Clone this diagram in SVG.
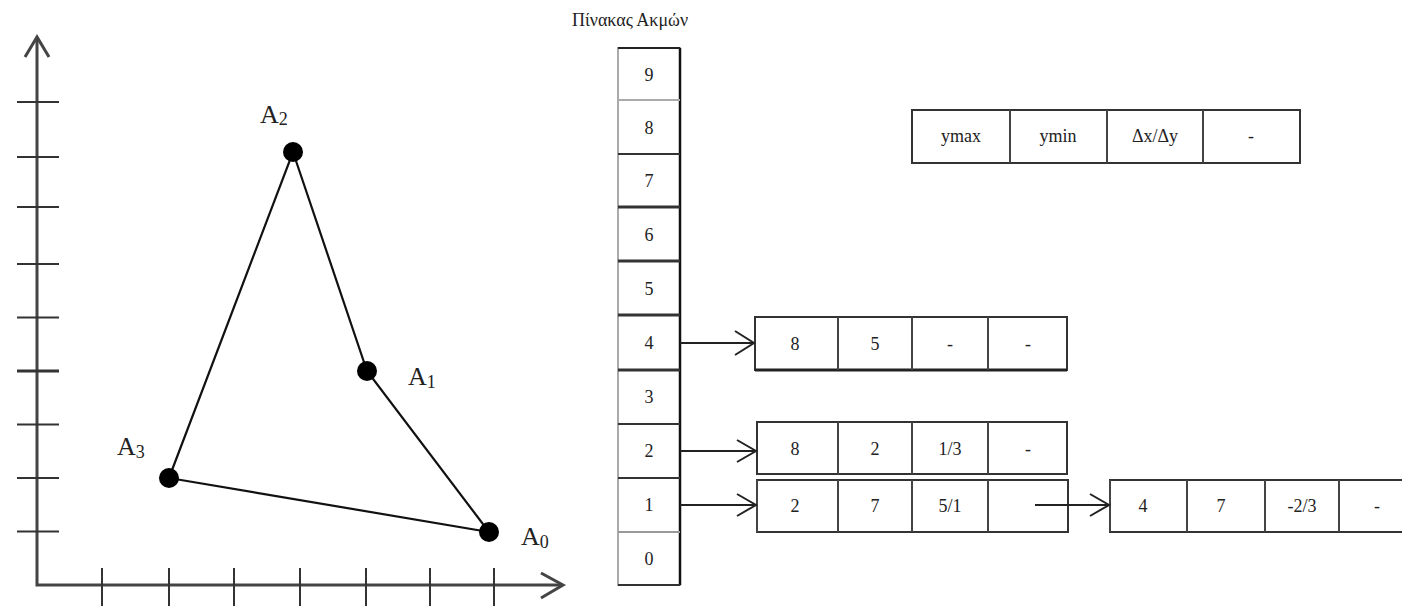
<svg xmlns="http://www.w3.org/2000/svg" width="1402" height="606" viewBox="0 0 1402 606">
<style>
text{font-family:"Liberation Serif","Times New Roman",serif;fill:#222}
.axis{stroke:#444;stroke-width:3;fill:none}
.tick{stroke:#333;stroke-width:2}
.edge{stroke:#111;stroke-width:2.2;fill:none}
.pt{fill:#000}
.lbl{font-size:26px}
.sub{font-size:18px}
.cell{fill:#fff;stroke:#333;stroke-width:2}
.div{stroke:#444;stroke-width:2}
.num{font-size:18px;text-anchor:middle}
.conn{stroke:#222;stroke-width:2;fill:none}
.head{stroke:#222;stroke-width:2;fill:none}
</style>
<g id="axes">
<path class="axis" d="M37,37 V585 H562"/>
<path class="axis" d="M25,57 L37,37 L49,57"/>
<path class="axis" d="M541,573 L563,585 L541,598"/>
<g class="tick">
<line x1="17" y1="531.5" x2="59" y2="531.5"/>
<line x1="17" y1="478" x2="59" y2="478"/>
<line x1="17" y1="424.5" x2="59" y2="424.5"/>
<line x1="17" y1="371" x2="59" y2="371" stroke-width="3"/>
<line x1="17" y1="317.5" x2="59" y2="317.5"/>
<line x1="17" y1="264" x2="59" y2="264"/>
<line x1="17" y1="207" x2="59" y2="207"/>
<line x1="17" y1="157" x2="59" y2="157"/>
<line x1="17" y1="102" x2="59" y2="102"/>
<line x1="102" y1="568" x2="102" y2="606"/>
<line x1="169" y1="568" x2="169" y2="606"/>
<line x1="234" y1="568" x2="234" y2="606"/>
<line x1="300" y1="568" x2="300" y2="606"/>
<line x1="366" y1="568" x2="366" y2="606"/>
<line x1="430" y1="568" x2="430" y2="606"/>
<line x1="494" y1="568" x2="494" y2="606"/>
</g>
</g>
<g id="triangle">
<polygon class="edge" points="293,152 367,371 489,532 169,478"/>
</g>
<g id="A0"><circle class="pt" cx="489" cy="532" r="10"/><text class="lbl" x="521" y="545">A<tspan class="sub" dy="3">0</tspan></text></g>
<g id="A1"><circle class="pt" cx="367" cy="371" r="10"/><text class="lbl" x="408" y="385">A<tspan class="sub" dy="3">1</tspan></text></g>
<g id="A2"><circle class="pt" cx="293" cy="152" r="10"/><text class="lbl" x="260" y="123">A<tspan class="sub" dy="2">2</tspan></text></g>
<g id="A3"><circle class="pt" cx="169" cy="478" r="10"/><text class="lbl" x="117" y="455">A<tspan class="sub" dy="3">3</tspan></text></g>
<g id="edge-table">
<text x="630" y="26" font-size="18" text-anchor="middle">Πίνακας Ακμών</text>
<rect x="618" y="48" width="62" height="537" fill="#fff" stroke="#aaa" stroke-width="2"/>
<line x1="680" y1="48" x2="680" y2="585" stroke="#111" stroke-width="2.5"/>
<line x1="618" y1="48" x2="680" y2="48" stroke="#222" stroke-width="2"/>
<g stroke="#333" stroke-width="2">
<line x1="618" y1="100" x2="680" y2="100" stroke="#aaa"/>
<line x1="618" y1="154" x2="680" y2="154"/>
<line x1="618" y1="207" x2="680" y2="207" stroke-width="3"/>
<line x1="618" y1="261" x2="680" y2="261" stroke-width="3"/>
<line x1="618" y1="315" x2="680" y2="315" stroke-width="3"/>
<line x1="618" y1="370" x2="680" y2="370" stroke-width="3"/>
<line x1="618" y1="424" x2="680" y2="424"/>
<line x1="618" y1="478" x2="680" y2="478"/>
<line x1="618" y1="532" x2="680" y2="532" stroke="#999"/>
<line x1="618" y1="585" x2="680" y2="585"/>
</g>
<text class="num" x="649" y="81">9</text>
<text class="num" x="649" y="134">8</text>
<text class="num" x="649" y="187">7</text>
<text class="num" x="649" y="241">6</text>
<text class="num" x="649" y="295">5</text>
<text class="num" x="649" y="349">4</text>
<text class="num" x="649" y="403">3</text>
<text class="num" x="649" y="457">2</text>
<text class="num" x="649" y="511">1</text>
<text class="num" x="649" y="565">0</text>
</g>
<g id="header">
<rect class="cell" x="912" y="110" width="388" height="53"/>
<line class="div" x1="1010" y1="110" x2="1010" y2="163"/>
<line class="div" x1="1107" y1="110" x2="1107" y2="163" stroke="#999"/>
<line class="div" x1="1203" y1="110" x2="1203" y2="163"/>
<text class="num" x="961" y="142" font-size="16">ymax</text>
<text class="num" x="1058" y="142" font-size="16">ymin</text>
<text class="num" x="1155" y="142" font-size="16">Δx/Δy</text>
<text class="num" x="1251" y="142" font-size="16" fill="#999">-</text>
</g>
<g id="row4-node">
<rect class="cell" x="755" y="317" width="312" height="53"/>
<line x1="755" y1="370" x2="1067" y2="370" stroke="#222" stroke-width="3"/>
<line class="div" x1="838" y1="317" x2="838" y2="370"/>
<line class="div" x1="912" y1="317" x2="912" y2="370"/>
<line class="div" x1="988" y1="317" x2="988" y2="370" stroke="#aaa"/>
<text class="num" x="795" y="350">8</text>
<text class="num" x="875" y="350">5</text>
<text class="num" x="950" y="350" fill="#999">-</text>
<text class="num" x="1028" y="350" fill="#999">-</text>
</g>
<g id="row2-node">
<rect class="cell" x="757" y="422" width="310" height="52"/>
<line class="div" x1="838" y1="422" x2="838" y2="474"/>
<line class="div" x1="912" y1="422" x2="912" y2="474"/>
<line class="div" x1="988" y1="422" x2="988" y2="474" stroke="#aaa"/>
<text class="num" x="795" y="455">8</text>
<text class="num" x="875" y="455">2</text>
<text class="num" x="950" y="455">1/3</text>
<text class="num" x="1028" y="455" fill="#999">-</text>
</g>
<g id="row1-node">
<rect class="cell" x="757" y="480" width="311" height="52" stroke="#888"/>
<line class="div" x1="757" y1="480" x2="757" y2="532"/>
<line class="div" x1="838" y1="480" x2="838" y2="532"/>
<line class="div" x1="912" y1="480" x2="912" y2="532"/>
<line class="div" x1="988" y1="480" x2="988" y2="532" stroke="#aaa"/>
<text class="num" x="795" y="512" fill="#666">2</text>
<text class="num" x="875" y="512" fill="#666">7</text>
<text class="num" x="950" y="512" fill="#555">5/1</text>
</g>
<g id="row1-node2">
<rect class="cell" x="1110" y="480" width="310" height="52" stroke="#999"/>
<line class="div" x1="1110" y1="480" x2="1110" y2="532" stroke="#111" stroke-width="2.5"/>
<line class="div" x1="1187" y1="480" x2="1187" y2="532" stroke="#888"/>
<line class="div" x1="1265" y1="480" x2="1265" y2="532" stroke="#222" stroke-width="2.5"/>
<line class="div" x1="1339" y1="480" x2="1339" y2="532" stroke="#222" stroke-width="2.5"/>
<text class="num" x="1143" y="512">4</text>
<text class="num" x="1221" y="512">7</text>
<text class="num" x="1302" y="512" fill="#666">-2/3</text>
<text class="num" x="1377" y="512">-</text>
</g>
<g id="connectors">
<line class="conn" x1="680" y1="343" x2="754" y2="343" stroke-width="3"/>
<path class="head" d="M735,331 L754,343 L735,355"/>
<line class="conn" x1="680" y1="451" x2="756" y2="451"/>
<path class="head" d="M737,440 L756,451 L737,462"/>
<line class="conn" x1="680" y1="505" x2="756" y2="505" stroke="#888" stroke-width="1.5"/>
<path class="head" d="M737,494 L756,505 L737,516"/>
<line class="conn" x1="1035" y1="505" x2="1109" y2="505"/>
<path class="head" d="M1090,494 L1109,505 L1090,516"/>
</g>
</svg>
